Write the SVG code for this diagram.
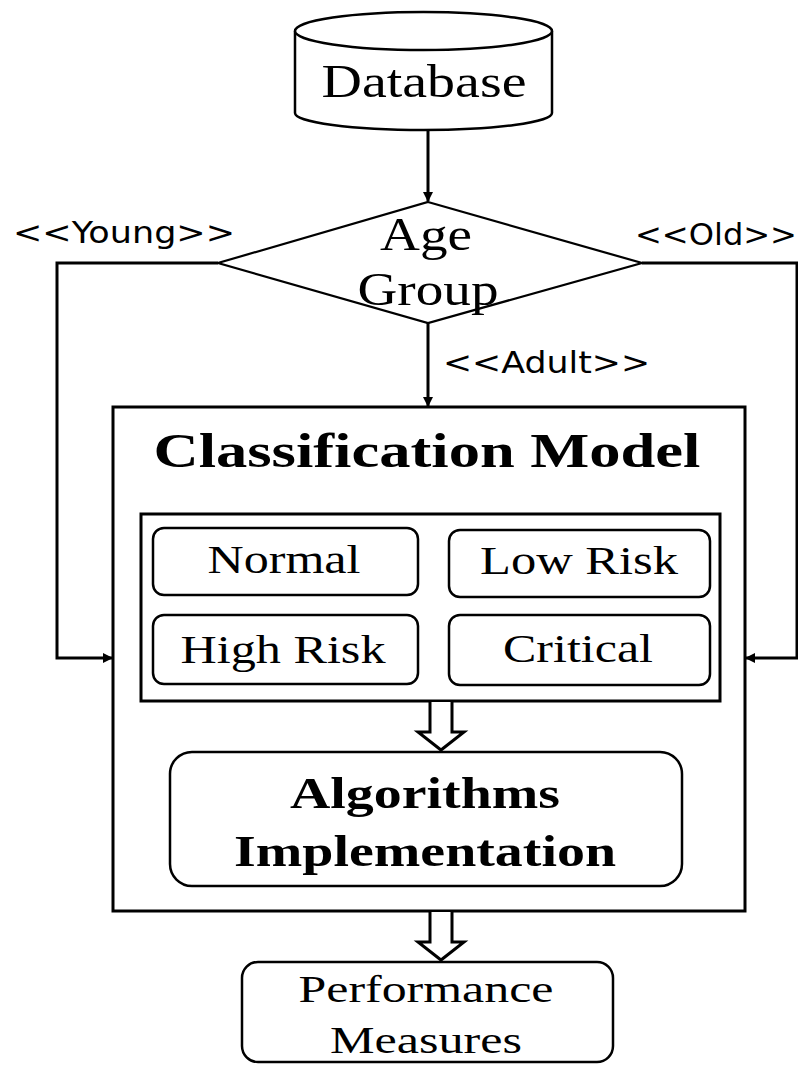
<svg xmlns="http://www.w3.org/2000/svg" width="798" height="1065" viewBox="0 0 798 1065">
  <defs>
    <marker id="arrow" markerWidth="10" markerHeight="10" refX="9" refY="5" orient="auto" markerUnits="userSpaceOnUse" viewBox="0 0 10 10">
      <path d="M0,0 L10,5 L0,10 z" fill="#000"/>
    </marker>
    <style>
      .serif { font-family: "Liberation Serif", "Times New Roman", serif; fill: #000; }
      .bold { font-weight: bold; }
      .sans { font-family: "DejaVu Sans", Verdana, sans-serif; fill: #000; }
      .box { fill: #fff; stroke: #000; stroke-width: 3; }
      .cat { fill: #fff; stroke: #000; stroke-width: 2.5; }
      .line { fill: none; stroke: #000; stroke-width: 3; }
      .hollow { fill: #fff; stroke: #000; stroke-width: 3; stroke-linejoin: miter; }
    </style>
  </defs>
  <rect width="798" height="1065" fill="#fff"/>

  <!-- database cylinder -->
  <g id="database">
    <path d="M295,31 L295,113 A128.5,17 0 0 0 552,113 L552,31" fill="#fff" stroke="#000" stroke-width="2.5"/>
    <ellipse cx="423.5" cy="31" rx="128.5" ry="19" fill="#fff" stroke="#000" stroke-width="2.5"/>
    <text class="serif" x="424" y="97" font-size="46" text-anchor="middle" textLength="205" lengthAdjust="spacingAndGlyphs">Database</text>
  </g>

  <!-- age group decision -->
  <g id="age-group">
    <polygon points="428,202 642,263 428,323 218,263" fill="#fff" stroke="#000" stroke-width="2.2"/>
    <text class="serif" x="426" y="250" font-size="46" text-anchor="middle" textLength="92" lengthAdjust="spacingAndGlyphs">Age</text>
    <text class="serif" x="428" y="305" font-size="46" text-anchor="middle" textLength="141" lengthAdjust="spacingAndGlyphs">Group</text>
  </g>

  <!-- classification model container -->
  <g id="classification-model">
    <rect class="box" x="113" y="407" width="632" height="504"/>
    <text class="serif bold" x="427" y="467" font-size="48" text-anchor="middle" textLength="547" lengthAdjust="spacingAndGlyphs">Classification Model</text>
    <rect class="box" x="141" y="514" width="579" height="187"/>
  </g>

  <g id="normal">
    <rect class="cat" x="153" y="528" width="265" height="67" rx="11"/>
    <text class="serif" x="284" y="573" font-size="39" text-anchor="middle" textLength="153" lengthAdjust="spacingAndGlyphs">Normal</text>
  </g>
  <g id="low-risk">
    <rect class="cat" x="449" y="530" width="261" height="67" rx="11"/>
    <text class="serif" x="579" y="574" font-size="39" text-anchor="middle" textLength="198" lengthAdjust="spacingAndGlyphs">Low Risk</text>
  </g>
  <g id="high-risk">
    <rect class="cat" x="153" y="615" width="265" height="69" rx="11"/>
    <text class="serif" x="283" y="663" font-size="39" text-anchor="middle" textLength="205" lengthAdjust="spacingAndGlyphs">High Risk</text>
  </g>
  <g id="critical">
    <rect class="cat" x="449" y="615" width="261" height="70" rx="11"/>
    <text class="serif" x="578" y="662" font-size="39" text-anchor="middle" textLength="150" lengthAdjust="spacingAndGlyphs">Critical</text>
  </g>

  <g id="algorithms">
    <rect class="cat" x="170" y="752" width="512" height="134" rx="22"/>
    <text class="serif bold" x="425" y="808" font-size="44" text-anchor="middle" textLength="270" lengthAdjust="spacingAndGlyphs">Algorithms</text>
    <text class="serif bold" x="425" y="866" font-size="44" text-anchor="middle" textLength="382" lengthAdjust="spacingAndGlyphs">Implementation</text>
  </g>

  <g id="performance">
    <rect class="cat" x="242" y="962" width="371" height="100" rx="16"/>
    <text class="serif" x="426" y="1002" font-size="38" text-anchor="middle" textLength="255" lengthAdjust="spacingAndGlyphs">Performance</text>
    <text class="serif" x="426" y="1053" font-size="38" text-anchor="middle" textLength="192" lengthAdjust="spacingAndGlyphs">Measures</text>
  </g>

  <!-- connectors, drawn last so they sit on top of the boxes -->
  <g id="connectors">
    <line class="line" x1="428" y1="130" x2="428" y2="201" marker-end="url(#arrow)"/>
    <polyline class="line" points="218,263 57,263 57,658 112,658" marker-end="url(#arrow)"/>
    <polyline class="line" points="642,263 797,263 797,658 746,658" marker-end="url(#arrow)"/>
    <line class="line" x1="428" y1="323" x2="428" y2="406" marker-end="url(#arrow)"/>
    <text class="sans" x="13" y="243" font-size="30" textLength="222" lengthAdjust="spacingAndGlyphs">&lt;&lt;Young&gt;&gt;</text>
    <text class="sans" x="635" y="245" font-size="30" textLength="162" lengthAdjust="spacingAndGlyphs">&lt;&lt;Old&gt;&gt;</text>
    <text class="sans" x="443" y="373" font-size="30" textLength="207" lengthAdjust="spacingAndGlyphs">&lt;&lt;Adult&gt;&gt;</text>
    <!-- block arrows -->
    <path class="hollow" d="M430,702 L430,732 L418,732 L441,750 L464,732 L452,732 L452,702"/>
    <path class="hollow" d="M430,912 L430,942 L418,942 L441,960 L464,942 L452,942 L452,912"/>
  </g>
</svg>
